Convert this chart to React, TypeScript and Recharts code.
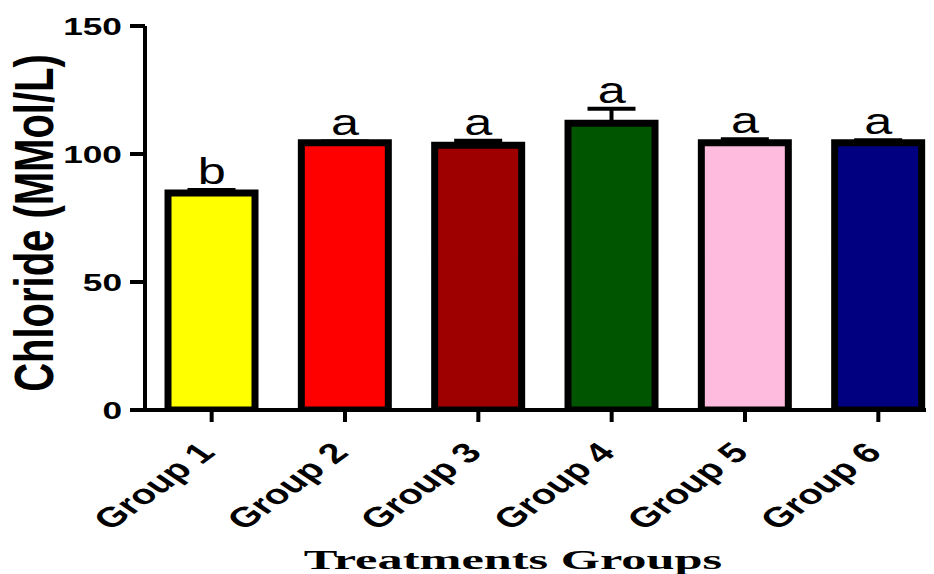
import React from 'react';
import { ComposedChart, Bar, Line, XAxis, YAxis, ErrorBar, LabelList, Cell } from 'recharts';

const groups = ['Group 1', 'Group 2', 'Group 3', 'Group 4', 'Group 5', 'Group 6'];
const means = [84.8, 104.4, 103.4, 112, 104.4, 104.4];
const sems = [1.1, 0.5, 1.8, 5.7, 1.4, 1.0];
const letters = ['b', 'a', 'a', 'a', 'a', 'a'];
const colors = ['#FFFF00', '#FF0000', '#9E0000', '#005500', '#FFBBDD', '#000080'];
const yTicks = [0, 50, 100, 150];

const data = groups.map((g, i) => ({
  name: g,
  mean: means[i],
  err: [0, sems[i]],
  top: means[i] + sems[i],
  letter: letters[i],
}));

const SANS = '"Liberation Sans", Arial, sans-serif';
const SERIF = '"Liberation Serif", "Times New Roman", serif';

const YTick = (props: any) => {
  const { x, y, payload } = props;
  return (
    <text
      transform={`translate(${x},${y}) scale(1.47,1)`}
      textAnchor="end"
      dy="0.36em"
      fontFamily={SANS}
      fontWeight="bold"
      fontSize={24}
      fill="#000"
    >
      {payload.value}
    </text>
  );
};

const XTick = (props: any) => {
  const { x, payload } = props;
  return (
    <text
      transform={`translate(${x + 5},${454}) scale(1.42,1) rotate(-46)`}
      textAnchor="end"
      fontFamily={SANS}
      fontWeight="bold"
      fontSize={28}
      fill="#000"
    >
      {payload.value}
    </text>
  );
};

const LetterLabel = (props: any) => {
  const { x, y, value } = props;
  return (
    <text
      transform={`translate(${x},${y - 6}) scale(1.4,1)`}
      textAnchor="middle"
      fontFamily={SANS}
      fontSize={36}
      fill="#000"
    >
      {value}
    </text>
  );
};

export default function App() {
  return (
    <div style={{ position: 'absolute', left: 0, top: 0, width: 934, height: 574, background: '#fff' }}>
      <ComposedChart
        width={934}
        height={574}
        data={data}
        margin={{ top: 26, right: 8, left: 85, bottom: 104 }}
      >
        <XAxis
          dataKey="name"
          height={60}
          padding={{ left: 0, right: -19 }}
          axisLine={{ stroke: '#000', strokeWidth: 4 }}
          tickLine={{ stroke: '#000', strokeWidth: 4 }}
          tickSize={12}
          tick={<XTick />}
          interval={0}
        />
        <YAxis
          width={60}
          domain={[0, 150]}
          ticks={yTicks}
          axisLine={{ stroke: '#000', strokeWidth: 4 }}
          tickLine={{ stroke: '#000', strokeWidth: 4 }}
          tickSize={15}
          tickMargin={8}
          tick={<YTick />}
          allowDataOverflow
        />
        <Bar dataKey="mean" barSize={87} stroke="#000" strokeWidth={7} isAnimationActive={false}>
          {data.map((d, i) => (
            <Cell key={d.name} fill={colors[i]} />
          ))}
          <ErrorBar dataKey="err" width={24} stroke="#000" strokeWidth={4} direction="y" />
        </Bar>
        <Line dataKey="top" stroke="none" dot={false} activeDot={false} isAnimationActive={false}>
          <LabelList dataKey="letter" content={<LetterLabel />} />
        </Line>
        <text
          transform="translate(33,223) scale(1.4,1) rotate(-90)"
          textAnchor="middle"
          dy="0.36em"
          fontFamily={SANS}
          fontWeight="bold"
          fontSize={40}
          fill="#000"
        >
          Chloride (MMol/L)
        </text>
        <text
          transform="translate(513,569) scale(1.8,1)"
          textAnchor="middle"
          fontFamily={SERIF}
          fontWeight="bold"
          fontSize={28}
          fill="#000"
        >
          Treatments Groups
        </text>
      </ComposedChart>
    </div>
  );
}
